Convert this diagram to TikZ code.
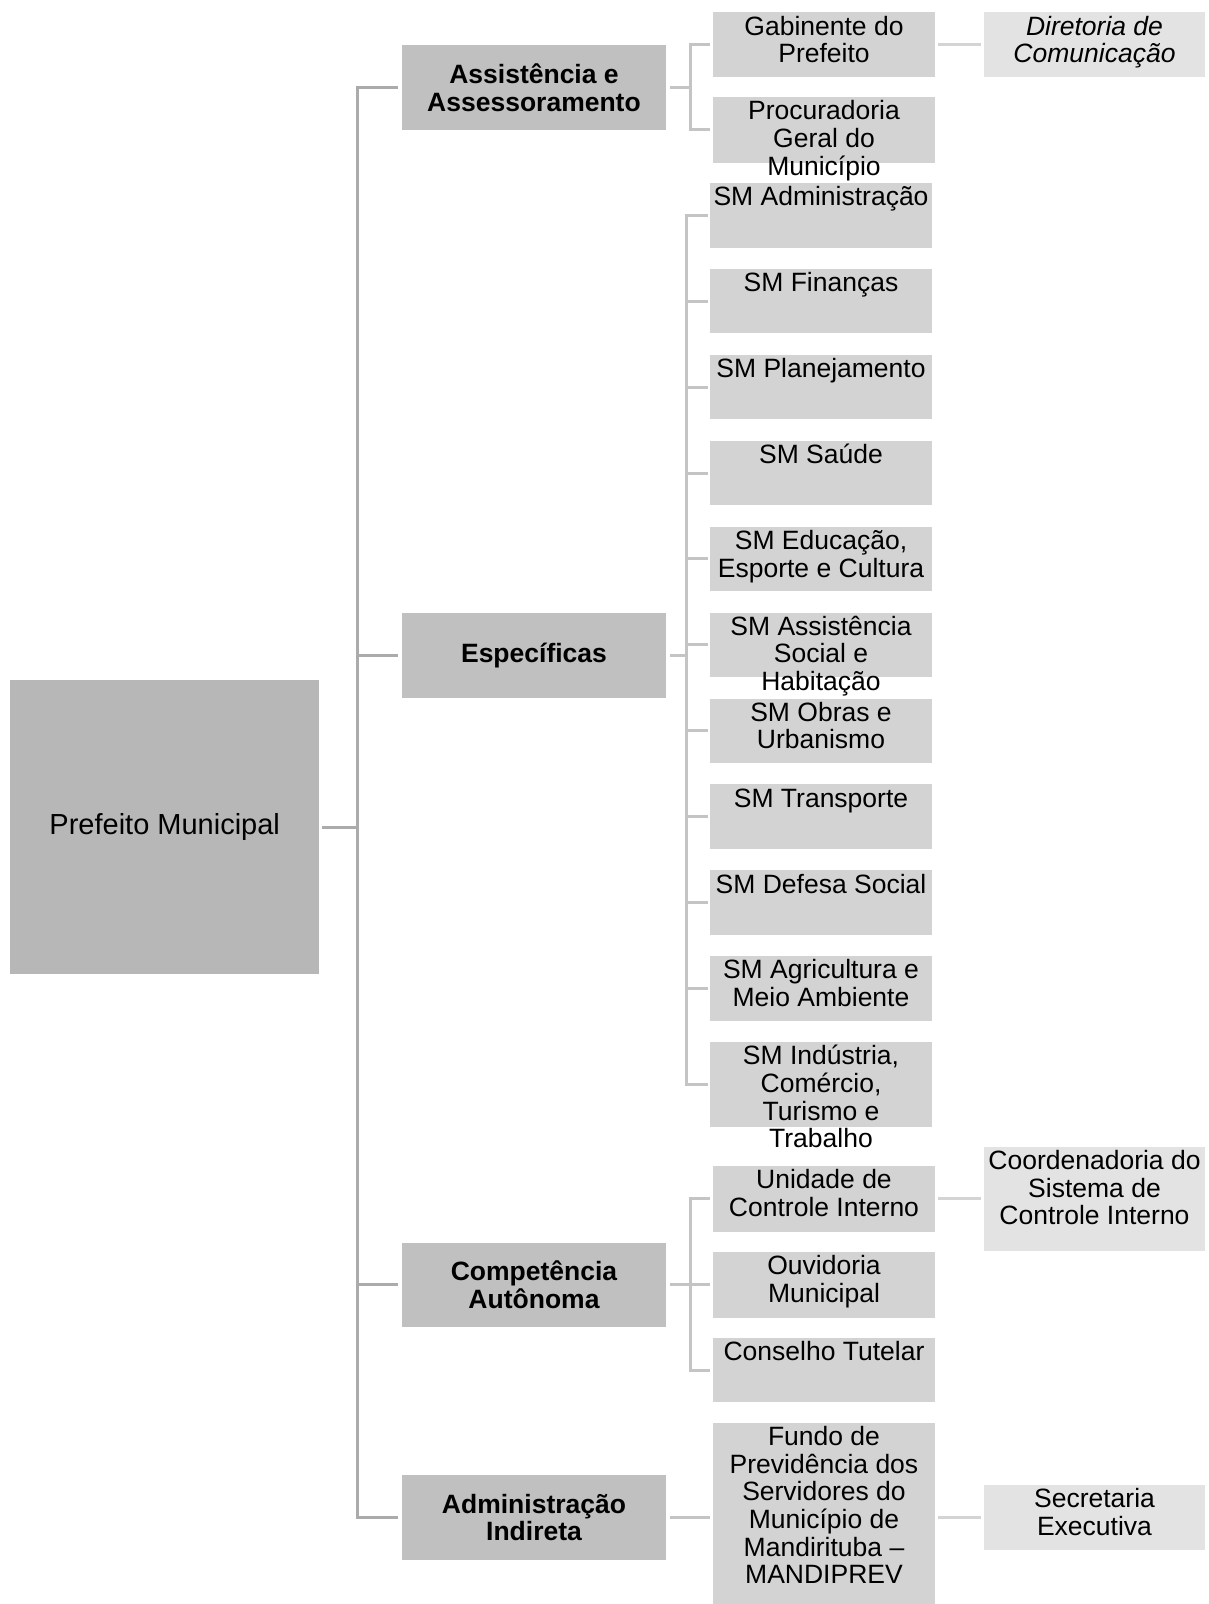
\documentclass[tikz,border=0pt]{standalone}
\usepackage{fontspec}
\setmainfont{Liberation Sans}
\definecolor{chiefgray}{HTML}{B7B7B7}
\definecolor{grpgray}{HTML}{C0C0C0}
\definecolor{unitgray}{HTML}{D3D3D3}
\definecolor{subgray}{HTML}{E3E3E3}
\definecolor{trunkline}{HTML}{ABABAB}
\definecolor{brline}{HTML}{C4C4C4}
\definecolor{subline}{HTML}{D4D4D4}
\newcommand{\regfont}{\fontsize{26.5}{27.6}\selectfont}
\newcommand{\grpfont}{\fontsize{26.5}{27.6}\selectfont\bfseries}
\newcommand{\chieffont}{\fontsize{29}{32}\selectfont}
\newcommand{\fl}{\rule{0pt}{22.5pt}}
\begin{document}
\begin{tikzpicture}[x=1pt,y=-1pt,
  box/.style={inner sep=0pt, outer sep=0pt, anchor=north west, draw=none},
  chief/.style={box, fill=chiefgray, minimum width=309pt, minimum height=293.6pt},
  grp/.style={box, fill=grpgray, minimum width=264pt, minimum height=85pt},
  unit/.style={box, fill=unitgray, minimum width=222pt},
  sub/.style={box, fill=subgray, minimum width=221pt},
  grptext/.style={inner sep=0pt, align=center, font=\grpfont},
  toptext/.style={anchor=north, inner sep=0pt, align=center, font=\regfont},
  trunk/.style={draw=trunkline, line width=3pt},
  brk/.style={draw=brline, line width=3pt},
  subl/.style={draw=subline, line width=3pt, shorten <=3pt, shorten >=3pt}
]
\useasboundingbox[fill=white] (0,0) rectangle (1208,1604);

% head of the municipality
\node[chief] (pm) at (10.2,680.2) {};
\node[font=\chieffont, inner sep=0pt] (pmt) at (pm.center) {Prefeito Municipal};

% groups
\node[grp] (ass) at (402,45) {};
\node[grptext] (asst) at (ass.center) {Assistência e\\Assessoramento};
\node[grp] (esp) at (402,612.7) {};
\node[grptext] (espt) at (esp.center) {Específicas};
\node[grp, minimum height=84pt] (comp) at (402,1242.8) {};
\node[grptext] (compt) at (comp.center) {Competência\\Autônoma};
\node[grp] (adm) at (402,1475) {};
\node[grptext] (admt) at (adm.center) {Administração\\Indireta};

% assistance and advisory units
\node[unit, minimum height=64.4pt] (gab) at (713,12.3) {};
\node[toptext] (gabt) at (gab.north) {\fl Gabinente do\\Prefeito};
\node[unit, minimum height=65.4pt] (proc) at (713,97.2) {};
\node[toptext] (proct) at (proc.north) {\fl Procuradoria\\Geral do\\Município};

% municipal secretariats
\foreach \k/\txt in {0/{SM Administração},
                     1/{SM Finanças},
                     2/{SM Planejamento},
                     3/{SM Saúde},
                     4/{SM Educação,\\Esporte e Cultura},
                     5/{SM Assistência\\Social e\\Habitação},
                     6/{SM Obras e\\Urbanismo},
                     7/{SM Transporte},
                     8/{SM Defesa Social},
                     9/{SM Agricultura e\\Meio Ambiente}} {
  \node[unit, minimum height=64.4pt] (sm\k) at (710,183.1+85.9*\k) {};
  \node[toptext] (sm\k t) at (sm\k.north) {\fl \txt};
}
\node[unit, minimum height=85pt] (sm10) at (710,1042.1) {};
\node[toptext] (sm10t) at (sm10.north) {\fl SM Indústria,\\Comércio,\\Turismo e\\Trabalho};

% autonomous units
\node[unit, minimum height=65.5pt] (uci) at (713,1166) {};
\node[toptext] (ucit) at (uci.north) {\fl Unidade de\\Controle Interno};
\node[unit, minimum height=65.5pt] (ouv) at (713,1252) {};
\node[toptext] (ouvt) at (ouv.north) {\fl Ouvidoria\\Municipal};
\node[unit, minimum height=64.4pt] (ct) at (713,1338) {};
\node[toptext] (ctt) at (ct.north) {\fl Conselho Tutelar};

% indirect administration
\node[unit, minimum height=181pt] (fundo) at (713,1423) {};
\node[toptext] (fundot) at (fundo.north) {\fl Fundo de\\Previdência dos\\Servidores do\\Município de\\Mandirituba –\\MANDIPREV};

% subordinate offices
\node[sub, minimum height=64.4pt] (dir) at (984,12.3) {};
\node[toptext] (dirt) at (dir.north) {\fl\itshape Diretoria de\\\itshape Comunicação};
\node[sub, minimum height=104.3pt] (coord) at (984,1146.7) {};
\node[toptext] (coordt) at (coord.north) {\fl Coordenadoria do\\Sistema de\\Controle Interno};
\node[sub, minimum height=64.7pt] (sec) at (984,1485) {};
\node[toptext] (sect) at (sec.north) {\fl Secretaria\\Executiva};

% trunk from the head to the groups
\coordinate (tk) at (357,0);
\draw[trunk, shorten <=3pt] (pm.east) -- (pm.east -| tk);
\draw[trunk, shorten <=4pt, shorten >=4pt]
  (ass.west) -- (ass.west -| tk) -- (adm.west -| tk) -- (adm.west);
\draw[trunk, shorten >=4pt] (esp.west -| tk) -- (esp.west);
\draw[trunk, shorten >=4pt] (comp.west -| tk) -- (comp.west);

% brackets from groups to units
\coordinate (ba) at (690.5,0);
\coordinate (bb) at (686.4,0);
\draw[brk, shorten <=4pt] (ass.east) -- (ass.east -| ba);
\draw[brk, shorten <=3pt, shorten >=3pt]
  (gab.west) -- (gab.west -| ba) -- (proc.west -| ba) -- (proc.west);

\draw[brk, shorten <=4pt] (esp.east) -- (esp.east -| bb);
\draw[brk, shorten <=2pt, shorten >=2pt]
  (sm0.west) -- (sm0.west -| bb) -- (sm10.west -| bb) -- (sm10.west);
\foreach \k in {1,...,9} {
  \draw[brk, shorten >=2pt] (sm\k.west -| bb) -- (sm\k.west);
}

\draw[brk, shorten <=4pt] (comp.east) -- (comp.east -| ba);
\draw[brk, shorten <=3pt, shorten >=3pt]
  (uci.west) -- (uci.west -| ba) -- (ct.west -| ba) -- (ct.west);
\draw[brk, shorten >=3pt] (ouv.west -| ba) -- (ouv.west);

\draw[brk, shorten <=4pt, shorten >=3pt] (adm.east) -- (adm.east -| fundo.west);

% links to subordinate offices
\draw[subl] (gab.east |- dir.west) -- (dir.west);
\draw[subl] (uci.east) -- (uci.east -| coord.west);
\draw[subl] (fundo.east |- sec.west) -- (sec.west);
\end{tikzpicture}
\end{document}
